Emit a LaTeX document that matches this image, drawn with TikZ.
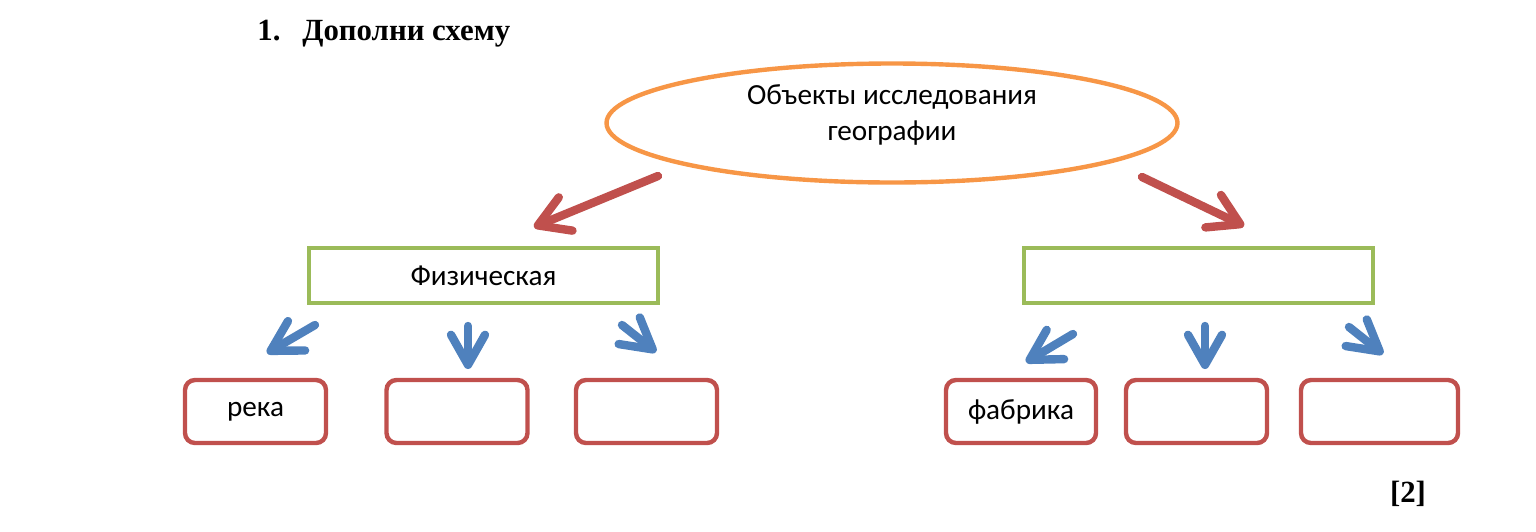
\documentclass[tikz,border=0pt]{standalone}
\usepackage{fontspec}
\setmainfont{Liberation Serif}
\newfontfamily\calibri{Carlito}
\usetikzlibrary{shapes.geometric,arrows.meta}
\definecolor{ovalorange}{RGB}{247,150,70}
\definecolor{boxgreen}{RGB}{155,187,89}
\definecolor{boxred}{RGB}{192,80,77}
\definecolor{arrowblue}{RGB}{79,129,189}
\begin{document}
\begin{tikzpicture}[x=0.5pt,y=-0.5pt,
  oval/.style={draw=ovalorange,line width=2.2pt,ellipse,inner sep=0pt,minimum width=285.5pt,minimum height=59.5pt},
  txt/.style={font=\calibri\fontsize{14.6}{18}\selectfont,align=center,inner sep=0pt},
  kindbox/.style={draw=boxgreen,line width=2.2pt,minimum width=174.5pt,minimum height=27.5pt,txt},
  itembox/.style={draw=boxred,line width=2.2pt,rounded corners=5pt,minimum width=70.5pt,minimum height=31.5pt,txt},
  redarrow/.style={draw=boxred,line width=4.2pt,line cap=round,-{Straight Barb[length=15pt,width=18pt,round]}},
  bluearrow/.style={draw=arrowblue,line width=4.2pt,line cap=round,-{Straight Barb[length=15pt,width=17pt,round]}}]
\useasboundingbox (0,0) rectangle (1536,531);
% heading
\node[anchor=base west,inner sep=0pt,font=\bfseries\fontsize{15.4}{18}\selectfont] (num) at (257,40) {1.};
\node[anchor=base west,inner sep=0pt,font=\bfseries\fontsize{15.4}{18}\selectfont] (title) at (302,40) {Дополни схему};
% top oval
\node[oval] (geo) at (892,123) {};
\node[txt] (geotxt) at (892,115) {Объекты исследования\\географии};
% second level
\node[kindbox] (phys) at (483.5,275.5) {Физическая};
\node[kindbox] (other) at (1198.5,275.5) {};
% third level
\node[itembox] (p1) at (255.5,411.5) {река};
\node[itembox] (p2) at (457,411.5) {};
\node[itembox] (p3) at (646.5,411.5) {};
\node[itembox,minimum width=75pt] (o1) at (1021,411.5) {фабрика};
\node[itembox] (o2) at (1196.5,411.5) {};
\node[itembox,minimum width=78.5pt] (o3) at (1379.5,411.5) {};
% arrow ends
\coordinate (ra1) at (658,176);
\coordinate (rb1) at (534,227);
\coordinate (ra2) at (1142,177);
\coordinate (rb2) at (1244,226);
\coordinate (pa1) at (315,325);
\coordinate (pb1) at (267,353);
\coordinate (pa2) at (468,326);
\coordinate (pb2) at (468,369);
\coordinate (pa3) at (622,325);
\coordinate (pb3) at (656,352);
\coordinate (oa1) at (1073,334);
\coordinate (ob1) at (1026,362);
\coordinate (oa2) at (1205,326);
\coordinate (ob2) at (1205,369);
\coordinate (oa3) at (1349,327);
\coordinate (ob3) at (1383,354);
\draw[redarrow] (ra1) -- (rb1);
\draw[redarrow] (ra2) -- (rb2);
\draw[bluearrow] (pa1) -- (pb1);
\draw[bluearrow] (pa2) -- (pb2);
\draw[bluearrow] (pa3) -- (pb3);
\draw[bluearrow] (oa1) -- (ob1);
\draw[bluearrow] (oa2) -- (ob2);
\draw[bluearrow] (oa3) -- (ob3);
% score
\node[anchor=base,inner sep=0pt,font=\bfseries\fontsize{15.4}{18}\selectfont] (score) at (1408,502) {[2]};
\end{tikzpicture}
\end{document}
